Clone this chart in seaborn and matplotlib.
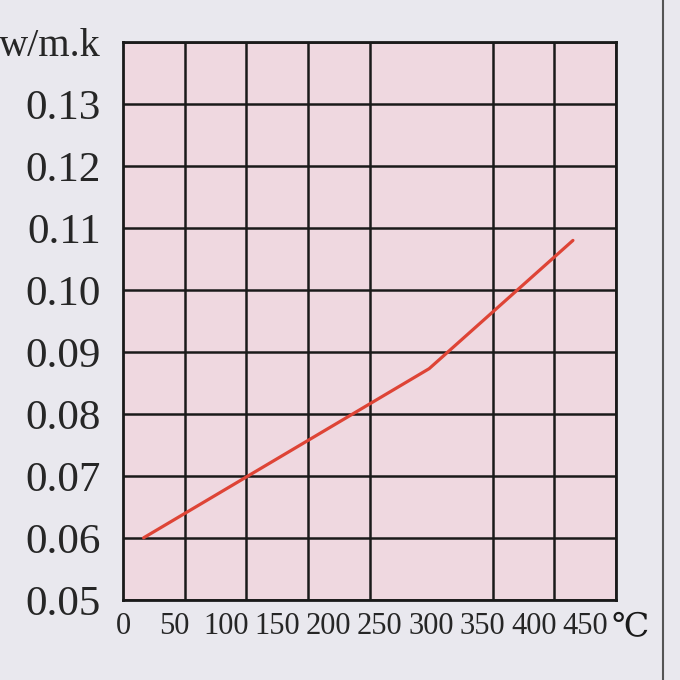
import numpy as np
import pandas as pd
import seaborn as sns
import matplotlib.pyplot as plt
from matplotlib.lines import Line2D

# thermal conductivity vs temperature
temps = [20, 298, 438]
conductivity = [0.060, 0.0873, 0.108]

x_ticks = [0, 50, 100, 150, 200, 250, 300, 350, 400, 450]
y_ticks = [0.05, 0.06, 0.07, 0.08, 0.09, 0.10, 0.11, 0.12, 0.13, 0.14]
y_labels = ['0.05', '0.06', '0.07', '0.08', '0.09', '0.10', '0.11', '0.12', '0.13', 'w/m.k']

df = pd.DataFrame({'temp': temps, 'k': conductivity})

sns.set_style('white')
plt.rcParams['font.family'] = ['Liberation Serif', 'DejaVu Serif']

fig = plt.figure(figsize=(6.8, 6.8), dpi=100, facecolor='#e9e8ee')
ax = fig.add_axes([0.181, 0.118, 0.725, 0.820])
ax.set_facecolor('#efd8e0')

sns.lineplot(data=df, x='temp', y='k', ax=ax, color='#de4436', linewidth=2.3)

ax.set_xlim(0, 480)
ax.set_ylim(0.05, 0.14)

# grid: 8 equal columns, rows at every 0.01
ax.set_xticks(x_ticks)
ax.set_xticklabels([str(t) for t in x_ticks], fontsize=22)
ax.set_xticks(np.linspace(0, 480, 9), minor=True)
ax.set_yticks(y_ticks)
ax.set_yticklabels(y_labels, fontsize=31)
ax.get_yticklabels()[-1].set_fontsize(29)

ax.grid(False)
ax.grid(True, which='minor', axis='x', color='#1a1a1a', linewidth=1.8)
ax.grid(True, which='major', axis='y', color='#1a1a1a', linewidth=1.8)
ax.tick_params(axis='both', which='both', length=0)
ax.tick_params(axis='x', pad=9)
ax.tick_params(axis='y', pad=16)
for s in ax.spines.values():
    s.set_visible(True)
    s.set_color('#1a1a1a')
    s.set_linewidth(2)

ax.set_xlabel('')
ax.set_ylabel('')
ax.text(0.99, -0.05, '℃', transform=ax.transAxes, fontsize=24,
        ha='left', va='center', color='#1a1a1a')

# page border line on the right
fig.add_artist(Line2D([0.975, 0.975], [0, 1], color='#555555', linewidth=1.5))

fig.savefig('out.png', dpi=100, facecolor=fig.get_facecolor())
